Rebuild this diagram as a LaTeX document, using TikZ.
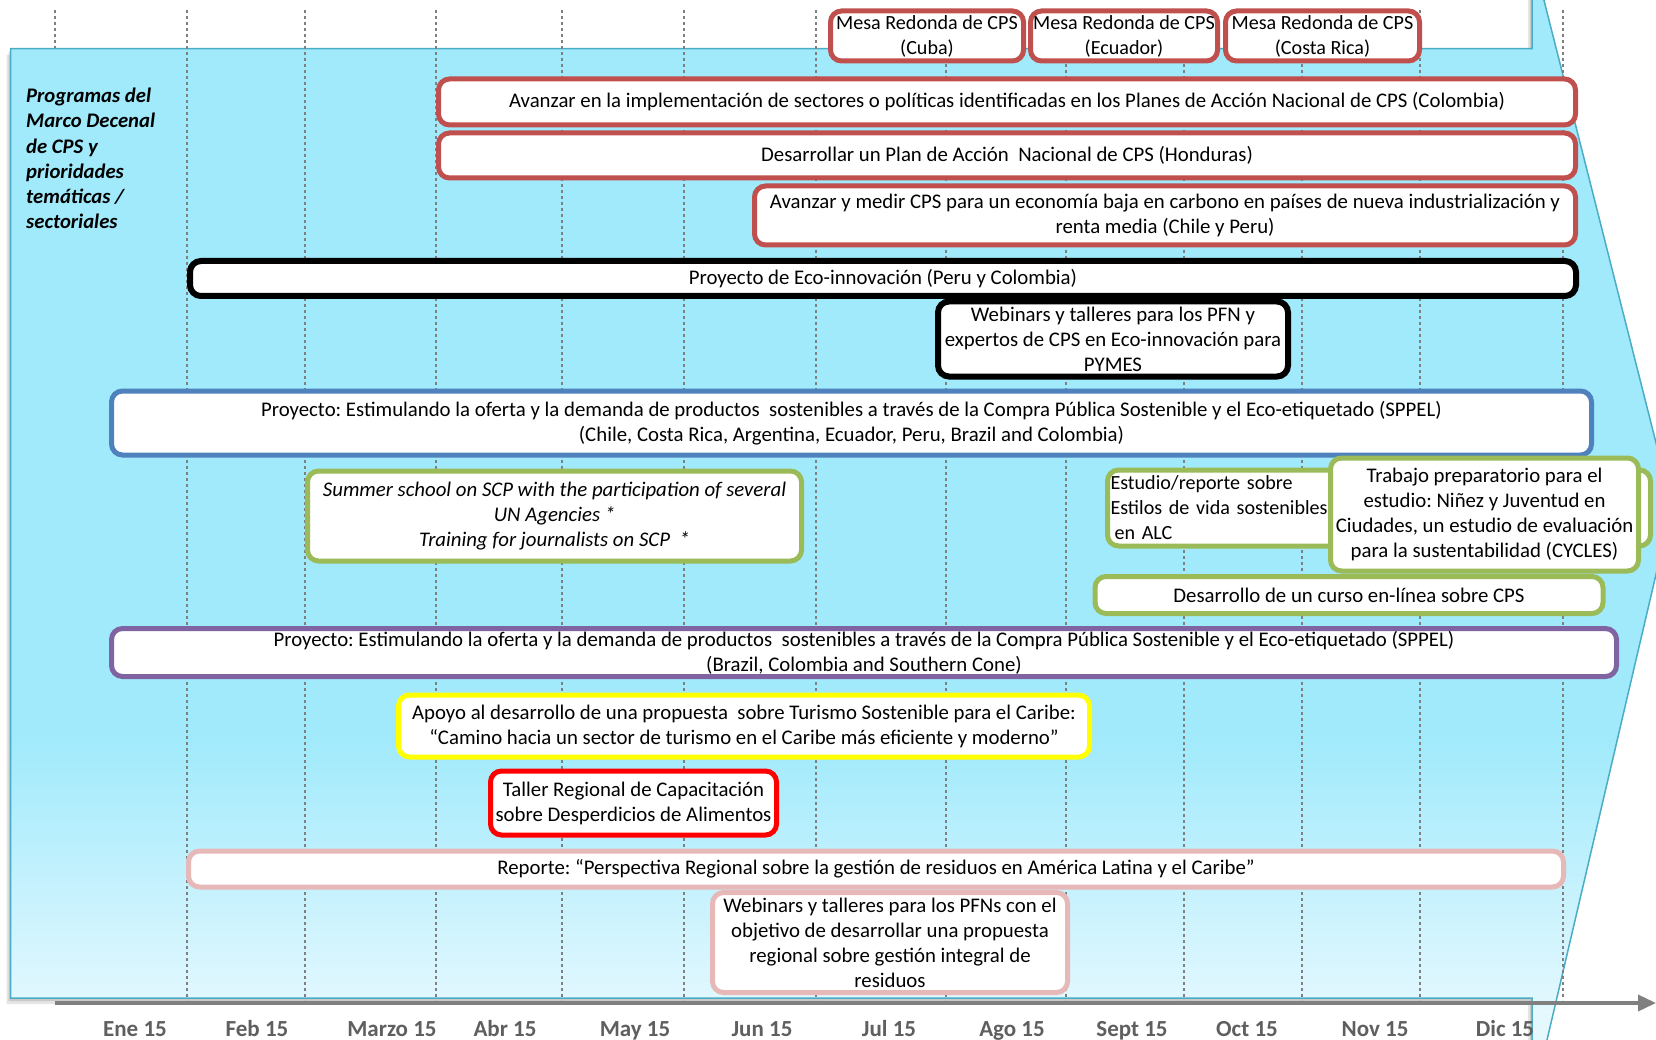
\documentclass[tikz,border=0pt]{standalone}
\usepackage{fontspec}
\setmainfont{Carlito}
\usetikzlibrary{arrows.meta}
\definecolor{arrowfill}{RGB}{160,234,252}
\definecolor{arrowlight}{RGB}{228,248,254}
\definecolor{arrowedge}{RGB}{75,172,198}
\definecolor{cpsred}{RGB}{192,80,77}
\definecolor{cpsblue}{RGB}{79,129,189}
\definecolor{cpsgreen}{RGB}{155,187,89}
\definecolor{cpspurple}{RGB}{128,100,162}
\definecolor{cpspink}{RGB}{230,184,183}
\definecolor{cpsyellow}{RGB}{255,255,0}
\definecolor{cpsbright}{RGB}{255,0,0}
\definecolor{gridgray}{RGB}{128,128,128}
\definecolor{monthgray}{RGB}{95,95,95}
\pgfdeclareverticalshading{arrowshade}{100bp}{color(0bp)=(arrowlight); color(29bp)=(arrowlight); color(41bp)=(arrowfill); color(100bp)=(arrowfill)}
\newcommand\cpsfont{\fontsize{20.8}{25}\selectfont\frenchspacing}
\newcommand\cpssmallfont{\fontsize{20.1}{25}\selectfont\frenchspacing}
\tikzset{
  box/.style={draw, line width=5pt, rounded corners=11pt, fill=white, align=center, inner sep=0pt, font=\cpsfont, text=black},
  gridline/.style={draw=gridgray, line width=2.8pt, dash pattern=on 3pt off 3pt},
  axisline/.style={draw=gridgray, line width=3.5pt, -{Triangle[length=18pt,width=16pt]}},
  month/.style={anchor=base, text=monthgray, font=\fontsize{23}{26}\selectfont\bfseries, inner sep=0pt}
}
\begin{document}
\begin{tikzpicture}[x=1pt,y=-1pt]
\useasboundingbox (0,0) rectangle (1656,1040);
\clip (0,0) rectangle (1656,1040);
\fill[white] (0,0) rectangle (1656,1040);
% shadow of the big arrow
\fill[black, opacity=0.10] (6.6,54.6) -- (1528,54.6) -- (1528,-41) -- (1668,512) -- (1528,1110) -- (1528,1004) -- (6.6,1004) -- cycle;
\fill[black, opacity=0.12] (8.6,51.6) -- (1530,51.6) -- (1530,-44) -- (1670,509) -- (1530,1107) -- (1530,1001) -- (8.6,1001) -- cycle;
% big arrow
\path[shading=arrowshade, draw=arrowedge, line width=1.5pt] (10.6,48.6) -- (1532,48.6) -- (1532,-47) -- (1672,506) -- (1532,1104) -- (1532,998) -- (10.6,998) -- cycle;
% grid lines
\draw[gridline] (55,10) -- (55,48);
\foreach \gx in {187,305,436,562,684,816,946,1066,1184,1302,1420,1563}{
  \draw[gridline] (\gx,10) -- (\gx,1000);
}
% time axis
\coordinate (axstart) at (55,1003);
\coordinate (axend) at (1656,1003);
\draw[axisline] (axstart) -- (axend);
% months
\node[month] (m1) at (135,1036) {Ene 15};
\node[month] (m2) at (257,1036) {Feb 15};
\node[month] (m3) at (392,1036) {Marzo 15};
\node[month] (m4) at (505,1036) {Abr 15};
\node[month] (m5) at (635,1036) {May 15};
\node[month] (m6) at (762,1036) {Jun 15};
\node[month] (m7) at (889,1036) {Jul 15};
\node[month] (m8) at (1012,1036) {Ago 15};
\node[month] (m9) at (1132,1036) {Sept 15};
\node[month] (m10) at (1247,1036) {Oct 15};
\node[month] (m11) at (1375,1036) {Nov 15};
\node[month] (m12) at (1505,1036) {Dic 15};
% side title
\node[anchor=north west, align=left, inner sep=0pt, font=\fontsize{20.7}{25.2}\selectfont\bfseries\itshape] (title) at (26,88) {Programas del\\Marco Decenal\\de CPS y\\prioridades\\temáticas /\\sectoriales};
% boxes
\node[box, draw=cpsred, minimum width=193pt, minimum height=50pt, font=\cpssmallfont] (cuba) at (927,36) {Mesa Redonda de CPS\\(Cuba)};
\node[box, draw=cpsred, minimum width=187pt, minimum height=50pt, font=\cpssmallfont] (ecuador) at (1124,36) {Mesa Redonda de CPS\\(Ecuador)};
\node[box, draw=cpsred, minimum width=194pt, minimum height=50pt, font=\cpssmallfont] (costarica) at (1322.5,36) {Mesa Redonda de CPS\\(Costa Rica)};
\node[box, draw=cpsred, minimum width=1137pt, minimum height=46pt] (colombia) at (1007,102) {Avanzar en la implementación de sectores o políticas identificadas en los Planes de Acción Nacional de CPS (Colombia)};
\node[box, draw=cpsred, minimum width=1137pt, minimum height=45pt] (honduras) at (1007,155.5) {Desarrollar un Plan de Acción\ \ Nacional de CPS (Honduras)};
\node[box, draw=cpsred, minimum width=821pt, minimum height=59pt] (chile) at (1165,215.5) {Avanzar y medir CPS para un economía baja en carbono en países de nueva industrialización y\\renta media (Chile y Peru)};
\node[box, draw=black, line width=6pt, minimum width=1386pt, minimum height=35pt] (eco) at (883,278.5) {Proyecto de Eco-innovación (Peru y Colombia)};
\node[box, draw=black, line width=6pt, minimum width=350pt, minimum height=75pt] (pymes) at (1113,339) {Webinars y talleres para los PFN y\\expertos de CPS en Eco-innovación para\\PYMES};
\node[box, draw=cpsblue, minimum width=1480pt, minimum height=64pt] (sppelone) at (851.5,423) {Proyecto: Estimulando la oferta y la demanda de productos\ \ sostenibles a través de la Compra Pública Sostenible y el Eco-etiquetado (SPPEL)\\(Chile, Costa Rica, Argentina, Ecuador, Peru, Brazil and Colombia)};
\node[box, draw=cpsgreen, minimum width=494pt, minimum height=90pt, font=\cpsfont\itshape] (summer) at (554.5,516) {Summer school on SCP with the participation of several\\UN Agencies *\\Training for journalists on SCP\ \ *};
\node[box, draw=cpsgreen, minimum width=543pt, minimum height=76pt, text width=537pt, align=left, inner xsep=3pt, font=\cpssmallfont] (estudio) at (1379,508) {Estudio/reporte sobre\\Estilos de vida sostenibles\\\hspace*{4pt}en ALC};
\node[box, draw=cpsgreen, minimum width=508pt, minimum height=37pt] (curso) at (1349,595) {Desarrollo de un curso en-línea sobre CPS};
\node[box, draw=cpsgreen, minimum width=308pt, minimum height=113pt] (trabajo) at (1484.5,514.5) {Trabajo preparatorio para el\\estudio: Niñez y Juventud en\\Ciudades, un estudio de evaluación\\para la sustentabilidad (CYCLES)};
\node[box, draw=cpspurple, minimum width=1505pt, minimum height=48pt] (sppeltwo) at (864,652.5) {Proyecto: Estimulando la oferta y la demanda de productos\ \ sostenibles a través de la Compra Pública Sostenible y el Eco-etiquetado (SPPEL)\\(Brazil, Colombia and Southern Cone)};
\node[box, draw=cpsyellow, minimum width=691pt, minimum height=62pt] (apoyo) at (744,726) {Apoyo al desarrollo de una propuesta\ \ sobre Turismo Sostenible para el Caribe:\\“Camino hacia un sector de turismo en el Caribe más eficiente y moderno”};
\node[box, draw=cpsbright, minimum width=286pt, minimum height=64pt] (taller) at (633.5,803) {Taller Regional de Capacitación\\sobre Desperdicios de Alimentos};
\node[box, draw=cpspink, minimum width=1375pt, minimum height=36pt] (reporte) at (876,869) {Reporte: “Perspectiva Regional sobre la gestión de residuos en América Latina y el Caribe”};
\node[box, draw=cpspink, minimum width=355pt, minimum height=100pt] (pfns) at (890,942.5) {Webinars y talleres para los PFNs con el\\objetivo de desarrollar una propuesta\\regional sobre gestión integral de\\residuos};
\end{tikzpicture}
\end{document}
